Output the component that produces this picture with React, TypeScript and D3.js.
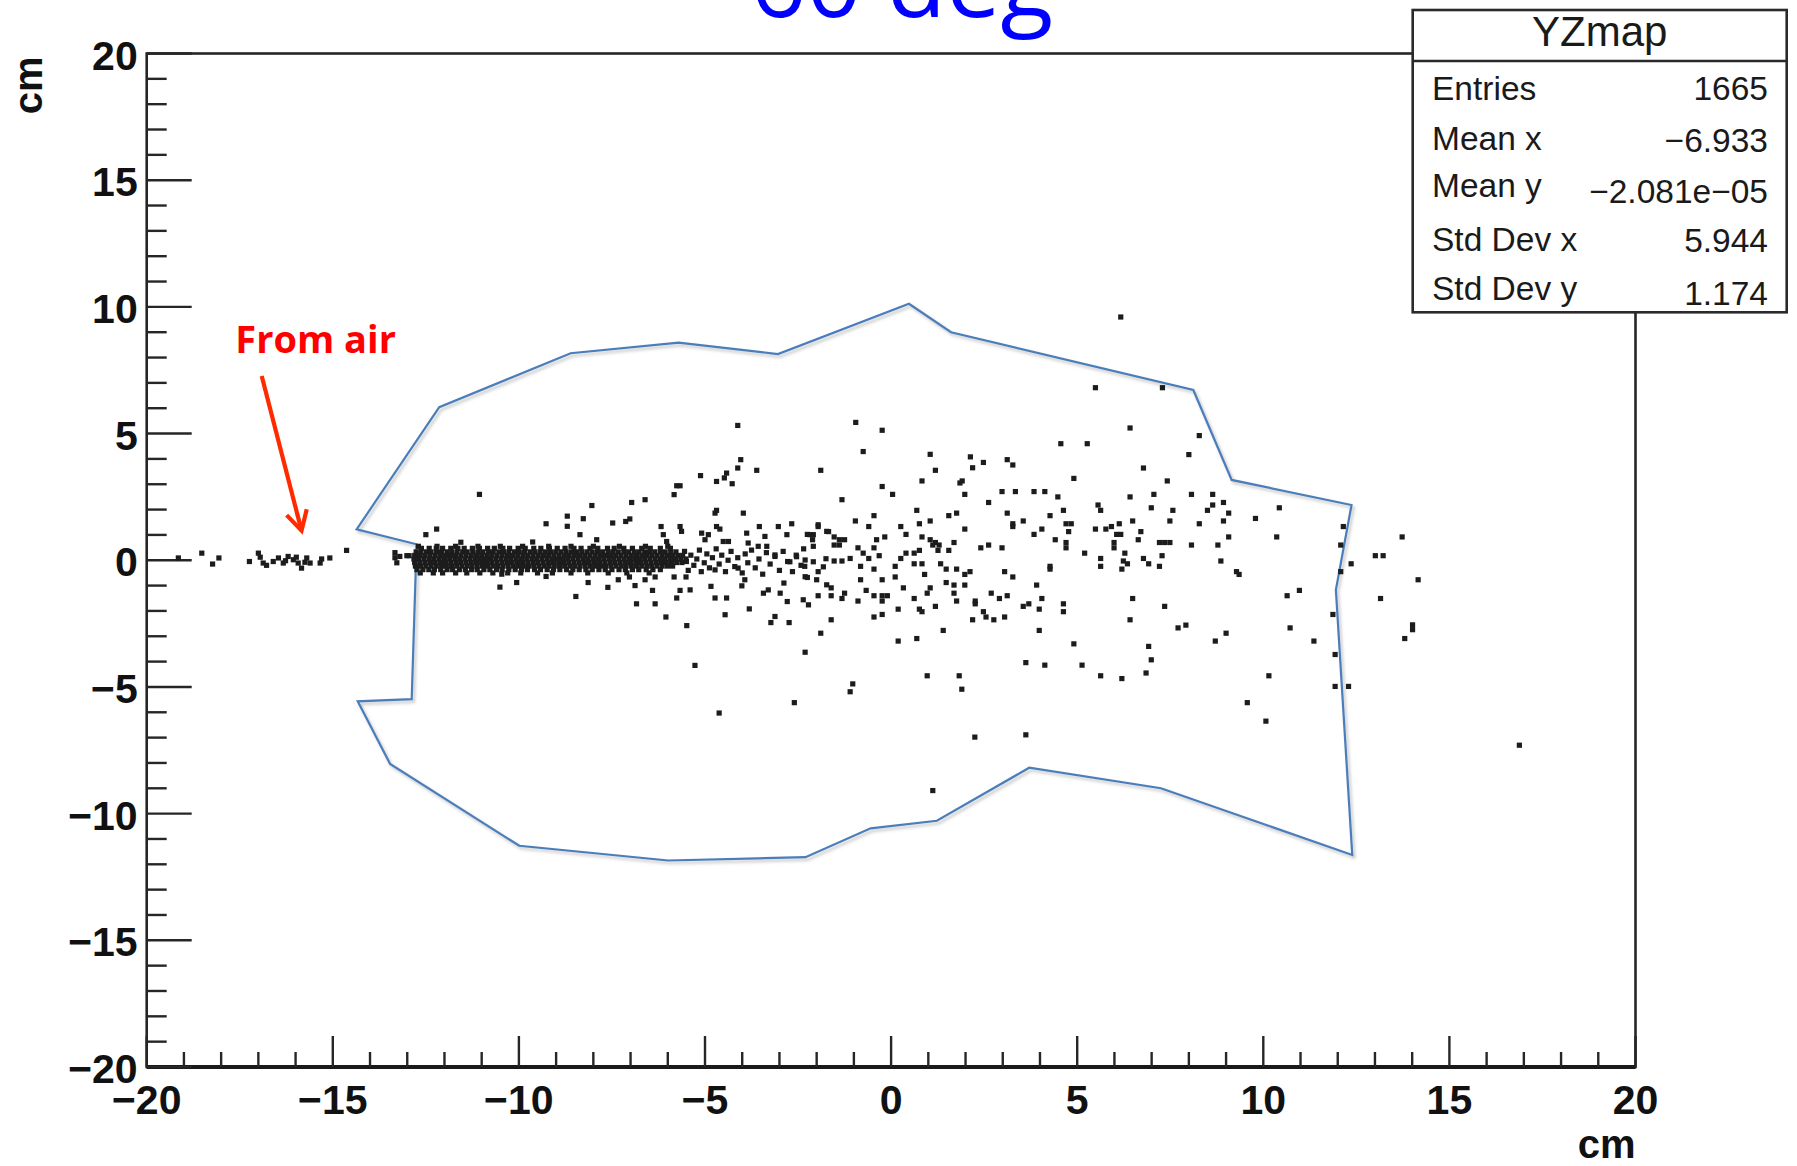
import React, { useEffect, useRef } from 'react';
import * as d3 from 'd3';

// axis range (cm)
const xDomain = [-20, 20];
const yDomain = [-20, 20];

// stats box
const statsTitle = 'YZmap';
const statLabels = ['Entries', 'Mean x', 'Mean y', 'Std Dev x', 'Std Dev y'];
const statValues = ['1665', '\u22126.933', '\u22122.081e\u221205', '5.944', '1.174'];

// hand drawn acceptance outline (cm)
const outlineX = [-14.36, -12.14, -8.61, -5.71, -3.04, 0.48, 1.61, 8.12, 9.15, 12.37, 11.95, 12.39, 7.25, 3.71, 1.23, -0.55, -2.3, -5.99, -9.99, -13.46, -14.33, -12.88, -12.75];
const outlineY = [1.22, 6.04, 8.17, 8.59, 8.14, 10.12, 9.0, 6.72, 3.17, 2.18, -1.17, -11.63, -9.0, -8.19, -10.28, -10.58, -11.72, -11.85, -11.27, -8.04, -5.57, -5.48, 0.63];

// "From air" note: label anchor, arrow tail, tip and the two barbs (cm)
const noteText = 'From air';
const noteAt = [-17.62, 8.18];
const arrowTail = [-16.91, 7.27];
const arrowTip = [-15.84, 1.17];
const arrowBarbs = [[-16.24, 1.78], [-15.7, 2.01]];

// dense core of the beam, read row by row
const coreRowY = [0.55, 0.47, 0.33, 0.19, 0.05, -0.09, -0.23, -0.37, -0.5];
const coreRowX = [
  [-12.7, -12.2, -11.7, -11.1, -10.5, -9.9, -9.2, -8.6, -8.0, -7.3, -6.6, -6.0],
  [-12.62, -12.41, -12.22, -12.05, -11.83, -11.64, -11.47, -11.25, -11.06, -10.84, -10.66, -10.43, -10.25, -10.02, -9.83, -9.6, -9.41, -9.18, -8.97, -8.76, -8.52, -8.33, -8.09, -7.88, -7.62, -7.44, -7.18, -6.95, -6.7, -6.47, -6.2, -5.93],
  [-12.76, -12.63, -12.48, -12.36, -12.21, -12.08, -11.93, -11.8, -11.66, -11.51, -11.39, -11.24, -11.1, -10.97, -10.82, -10.69, -10.54, -10.41, -10.27, -10.12, -9.99, -9.85, -9.7, -9.57, -9.43, -9.29, -9.15, -9.01, -8.87, -8.73, -8.59, -8.45, -8.31, -8.17, -8.03, -7.89, -7.75, -7.6, -7.47, -7.33, -7.18, -7.05, -6.9, -6.77, -6.62, -6.49, -6.35, -6.2, -6.07, -5.92, -5.78],
  [-12.8, -12.67, -12.53, -12.39, -12.25, -12.11, -11.97, -11.84, -11.7, -11.56, -11.42, -11.28, -11.14, -11.0, -10.86, -10.73, -10.59, -10.45, -10.31, -10.17, -10.03, -9.89, -9.76, -9.62, -9.48, -9.34, -9.2, -9.06, -8.92, -8.78, -8.65, -8.51, -8.37, -8.23, -8.09, -7.95, -7.81, -7.67, -7.54, -7.4, -7.26, -7.12, -6.98, -6.84, -6.7, -6.57, -6.43, -6.29, -6.15, -6.01, -5.87, -5.73, -5.6],
  [-12.82, -12.69, -12.55, -12.41, -12.28, -12.14, -12.0, -11.86, -11.72, -11.59, -11.45, -11.31, -11.17, -11.03, -10.9, -10.76, -10.62, -10.48, -10.34, -10.21, -10.07, -9.93, -9.79, -9.65, -9.52, -9.38, -9.24, -9.1, -8.96, -8.83, -8.69, -8.55, -8.41, -8.27, -8.14, -8.0, -7.86, -7.72, -7.58, -7.45, -7.31, -7.17, -7.03, -6.89, -6.76, -6.62, -6.48, -6.34, -6.2, -6.07, -5.93, -5.79, -5.65, -5.51],
  [-12.8, -12.66, -12.52, -12.38, -12.25, -12.11, -11.97, -11.83, -11.69, -11.56, -11.42, -11.28, -11.14, -11.0, -10.87, -10.73, -10.59, -10.45, -10.31, -10.18, -10.04, -9.9, -9.76, -9.62, -9.49, -9.35, -9.21, -9.07, -8.93, -8.8, -8.66, -8.52, -8.38, -8.24, -8.11, -7.97, -7.83, -7.69, -7.55, -7.42, -7.28, -7.14, -7.0, -6.86, -6.73, -6.59, -6.45, -6.31, -6.17, -6.04, -5.9, -5.76, -5.62],
  [-12.78, -12.64, -12.5, -12.36, -12.22, -12.08, -11.95, -11.81, -11.67, -11.53, -11.39, -11.26, -11.12, -10.98, -10.84, -10.7, -10.57, -10.43, -10.29, -10.15, -10.01, -9.88, -9.74, -9.6, -9.46, -9.32, -9.19, -9.05, -8.91, -8.77, -8.63, -8.5, -8.36, -8.22, -8.08, -7.94, -7.81, -7.67, -7.53, -7.39, -7.25, -7.12, -6.98, -6.84, -6.7, -6.56, -6.43, -6.29, -6.15, -6.01, -5.87],
  [-12.74, -12.58, -12.42, -12.27, -12.1, -11.93, -11.78, -11.6, -11.44, -11.27, -11.12, -10.94, -10.78, -10.6, -10.45, -10.27, -10.1, -9.93, -9.77, -9.58, -9.42, -9.24, -9.07, -8.9, -8.72, -8.55, -8.38, -8.2, -8.03, -7.85, -7.68, -7.5, -7.31, -7.14, -6.95, -6.78, -6.58, -6.4, -6.2],
  [-12.65, -12.3, -12.05, -11.7, -11.4, -11.05, -10.7, -10.3, -9.95, -9.5, -9.1, -8.6, -8.15, -7.6, -7.1, -6.5],
];

// points from air, upstream of the target
const airPts: [number, number][] = [
  [-19.15, 0.09], [-18.52, 0.28], [-18.23, -0.15], [-18.06, 0.09], [-17.24, -0.05], [-17.0, 0.28],
  [-16.95, 0.12], [-16.87, -0.11], [-16.78, -0.2], [-16.6, -0.05], [-16.46, 0.09], [-16.33, -0.11],
  [-16.27, -0.02], [-16.2, 0.15], [-16.06, 0.02], [-15.98, 0.12], [-15.93, -0.11], [-15.84, -0.31],
  [-15.75, -0.08], [-15.7, 0.09], [-15.61, -0.11], [-15.34, -0.11], [-15.3, 0.05], [-15.08, 0.09],
  [-14.63, 0.39], [-13.33, 0.3], [-13.33, 0.1], [-13.28, -0.1], [-13.2, 0.15], [-13.01, 0.18], [-12.95, 0.18],
];

// the broken tail of the core
const tailPts: [number, number][] = [
  [-5.55, 0.35], [-5.5, -0.05], [-5.45, -0.4], [-5.38, 0.2], [-5.3, -0.2], [-5.22, 0.05], [-5.15, 0.4],
  [-5.1, -0.45], [-5.02, -0.1], [-4.95, 0.25], [-4.88, -0.3], [-4.8, 0.1], [-4.7, 0.45], [-4.62, -0.15],
  [-4.55, 0.2], [-4.45, -0.45], [-4.38, 0.0], [-4.3, 0.35], [-4.2, -0.25], [-4.12, 0.1], [-4.0, -0.5],
  [-3.92, 0.25], [-3.85, -0.1], [-3.75, 0.4], [-3.65, -0.3], [-3.55, 0.05], [-3.45, -0.55], [-3.35, 0.3],
  [-3.25, -0.15], [-3.12, 0.15], [-3.12, 0.21], [-3.0, -0.4], [-2.9, 0.35], [-2.78, -0.05], [-2.72, -0.06],
  [-2.65, -0.45], [-2.55, 0.2], [-2.54, 0.14], [-2.42, -0.2], [-2.35, 0.45], [-2.31, 0.01], [-2.09, -0.06],
  [-1.82, -0.26], [-2.31, -0.65],
];

// scattered hits
const spreadPts: [number, number][] = [
  [-12.5, 1.01], [-12.21, 1.23], [-11.56, 0.71], [-11.06, 2.6], [-10.51, -1.06], [-10.06, -0.88], [-10.46, -0.55],
  [-9.63, 0.72], [-9.27, 1.44], [-8.7, 1.74], [-8.7, 1.34], [-8.27, 1.64], [-8.04, 2.16], [-8.36, 1.01],
  [-8.47, -1.43], [-9.27, -0.64], [-8.14, -0.88],
  [-6.97, 2.28], [-6.61, 2.39], [-7.13, 1.53], [-7.02, 1.63], [-7.48, 1.47], [-7.91, 0.81], [-5.83, 2.59],
  [-5.76, 2.94], [-5.67, 2.94], [-4.69, 3.11], [-4.27, 3.02], [-4.73, 1.86], [-4.69, 1.97], [-3.97, 1.86],
  [-6.18, 1.33], [-5.67, 1.33], [-5.63, 1.14], [-6.12, 1.01], [-6.03, 0.74], [-5.09, 1.07], [-4.91, 1.01],
  [-5.0, 0.81], [-4.69, 1.33], [-4.6, 1.23], [-3.88, 1.07], [-3.54, 1.33], [-3.03, 1.33], [-2.67, 1.44],
  [-2.8, 1.01], [-3.39, 0.94], [-2.18, 1.01], [-2.09, 1.01], [-1.96, 1.4], [-1.73, 1.14], [-2.09, 0.55],
  [-1.75, 0.06], [-4.51, 0.74], [-4.37, 0.74], [-3.84, 0.68], [-3.57, 0.55], [-3.34, 0.55],
  [-7.61, -1.07], [-7.33, -0.77], [-7.03, -0.66], [-6.88, -1.0], [-6.61, -0.77], [-6.34, -0.66], [-6.41, -1.19],
  [-6.84, -1.72], [-6.34, -1.72], [-6.05, -2.24], [-5.49, -2.58], [-5.83, -0.66], [-5.51, -0.66], [-5.67, -1.19],
  [-5.4, -1.17], [-5.76, -1.49], [-4.84, -1.03], [-4.73, -1.49], [-4.42, -1.49], [-4.46, -2.15], [-3.81, -1.92],
  [-4.01, -1.01], [-3.93, -0.77], [-3.43, -1.3], [-3.3, -1.17], [-2.98, -1.3], [-2.88, -0.9], [-2.79, -1.63],
  [-3.12, -2.22], [-3.23, -2.46], [-2.74, -2.46], [-2.36, -1.56], [-2.22, -1.76], [-1.96, -1.4], [-2.25, -0.68],
  [-2.0, -0.77], [-1.73, -0.97], [-4.73, -0.38], [-4.11, -0.31],
  [-4.12, 5.32], [-4.04, 3.97], [-4.12, 3.64], [-4.42, 3.44], [-4.48, 3.25], [-5.12, 3.34], [-3.61, 3.55], [-1.89, 3.55],
  [-5.27, -4.15], [-4.62, -6.03], [-1.89, -2.88], [-2.31, -3.63], [-2.6, -5.62],
  [5.49, 6.81], [7.29, 6.81], [-0.95, 5.44], [-0.24, 5.13], [-0.75, 4.29], [6.42, 5.22], [8.28, 4.92], [8.0, 4.17],
  [4.56, 4.6], [5.27, 4.6], [6.78, 3.64], [7.42, 3.13], [4.91, 3.23], [1.05, 4.18], [1.19, 3.55], [2.13, 4.08],
  [2.19, 3.65], [2.48, 3.86], [3.12, 3.97], [3.27, 3.76], [0.83, 3.13], [1.85, 3.05], [1.91, 3.13], [1.98, 2.6],
  [-0.24, 2.91], [0.04, 2.6], [-1.32, 2.39], [2.62, 2.28], [2.98, 2.71], [3.34, 2.71], [3.84, 2.71], [4.13, 2.71],
  [4.48, 2.5], [4.63, 1.97], [4.27, 1.76], [3.12, 1.86], [3.55, 1.55], [3.27, 1.44], [3.27, 1.33], [6.42, 2.5],
  [7.06, 2.6], [6.99, 2.07], [7.57, 1.97], [7.49, 1.55], [8.07, 2.6], [8.64, 2.6], [8.93, 2.28], [8.64, 2.18],
  [8.5, 1.97], [9.07, 1.86], [8.93, 1.55], [8.28, 1.44], [9.79, 1.65], [10.43, 2.07], [5.56, 2.18], [5.63, 1.97],
  [6.49, 1.55], [6.13, 1.44], [5.49, 1.23], [5.77, 1.23], [5.92, 1.33], [6.06, 1.02], [6.17, 1.02], [6.71, 1.13],
  [4.7, 1.44], [4.84, 1.44], [4.77, 1.13], [3.84, 1.02], [4.05, 1.23], [4.41, 0.81], [4.7, 0.7], [4.7, 0.49],
  [6.64, 0.81], [5.99, 0.7], [5.99, 0.49], [6.28, 0.28], [7.21, 0.7], [7.35, 0.7], [7.49, 0.7], [7.28, 0.18],
  [8.07, 0.6], [9.07, 0.92], [8.78, 0.6], [8.86, -0.03], [9.28, -0.45], [9.35, -0.56], [10.36, 0.92], [5.2, 0.28],
  [5.63, 0.07], [5.63, -0.24], [6.24, -0.03], [6.35, -0.14], [6.2, -0.35], [6.78, 0.07], [6.92, -0.14], [7.21, -0.24],
  [4.27, -0.24], [4.27, -0.35], [2.98, 0.49], [2.41, 0.49], [2.62, 0.6], [1.69, 0.7], [1.55, 0.39], [1.29, 0.6],
  [1.19, 0.7], [1.05, 0.81], [1.33, -0.14], [1.48, -0.35], [1.76, -0.35], [1.98, -0.56], [2.12, -0.45], [1.69, -0.98],
  [1.98, -0.98], [1.69, -1.3], [1.76, -1.61], [1.48, -0.88], [3.05, -0.45], [3.27, -0.66], [3.91, -0.98], [4.05, -1.51],
  [3.98, -1.93], [3.98, -2.77], [2.69, -1.3], [2.91, -1.51], [3.12, -1.4], [2.26, -1.61], [2.26, -1.72], [2.48, -2.03],
  [2.55, -2.24], [2.76, -2.35], [3.05, -2.24], [2.19, -2.35], [3.55, -1.82], [3.7, -1.72], [4.63, -1.72], [4.63, -2.03],
  [1.4, -2.77], [0.69, 1.97], [0.76, 1.44], [1.05, 1.55], [1.55, 1.76], [1.76, 1.86], [1.98, 1.23], [0.26, 1.33],
  [0.4, 1.02], [0.83, 0.92], [1.12, 0.6], [1.26, 0.39], [-0.46, 1.76], [-0.6, 1.33], [-0.96, 1.55], [-2.25, 1.02],
  [-2.11, 0.81], [-1.96, 1.33], [-1.68, 1.13], [-1.53, 0.92], [-1.39, 0.81], [-1.25, 0.81], [-1.39, 0.6], [-1.53, 0.6],
  [-0.89, 0.49], [-0.75, 0.28], [-0.46, 0.49], [-0.32, 0.18], [-0.17, 0.92], [-0.39, 0.81], [-1.53, -0.03], [-1.32, -0.03],
  [-1.1, 0.07], [-0.82, -0.24], [-0.6, 0.07], [-0.46, -0.35], [-0.24, -0.77], [0.11, -0.24], [0.26, 0.07], [0.4, 0.28],
  [0.62, 0.28], [0.76, 0.39], [0.62, -0.14], [0.83, -0.14], [0.9, -0.56], [-1.96, -0.45], [-2.32, -0.24], [-1.61, -1.09],
  [-1.61, -1.4], [-1.32, -1.51], [-1.25, -1.3], [-0.82, -0.77], [-0.89, -1.61], [-0.67, -1.19], [-0.46, -1.4], [-0.24, -1.4],
  [-0.1, -1.4], [-0.24, -1.61], [0.11, -0.66], [0.33, -1.09], [0.19, -1.93], [0.62, -1.51], [0.97, -1.3], [1.05, -1.09],
  [1.19, -1.82], [0.76, -1.93], [0.83, -2.03], [-1.61, -2.35], [-0.46, -2.24], [-0.24, -2.14], [0.19, -3.19], [0.69, -3.09],
  [0.97, -4.56], [1.83, -4.56], [1.9, -5.09], [-1.03, -4.88], [-1.1, -5.19], [3.62, -4.04], [4.13, -4.14], [5.13, -4.14],
  [4.91, -3.3], [6.42, -2.35], [6.49, -1.51], [6.92, -3.4], [6.99, -3.93], [6.85, -4.45], [5.63, -4.56], [6.2, -4.67],
  [7.35, -1.82], [7.71, -2.67], [7.92, -2.56], [8.71, -3.19], [9.0, -2.88], [10.64, -1.4], [10.72, -2.67], [10.15, -4.56],
  [9.57, -5.62], [10.07, -6.35], [10.97, -1.19],
  [12.15, 1.33], [12.08, 0.6], [12.36, -0.14], [12.08, -0.45], [13.73, 0.92], [13.01, 0.18], [13.22, 0.18], [14.16, -0.77],
  [13.15, -1.51], [14.01, -2.55], [14.01, -2.74], [13.8, -3.09], [11.36, -3.19], [11.87, -2.14], [11.93, -3.72],
  [11.93, -4.98], [12.29, -4.98], [16.88, -7.3], [2.25, -6.98], [3.62, -6.89], [1.12, -9.09], [6.17, 9.6],
];

const App = () => {
  const svgRef = useRef<SVGSVGElement | null>(null);

  useEffect(() => {
    const width = 1797;
    const height = 1166;
    const frame = { left: 146.7, right: 1635.5, top: 53.5, bottom: 1067 };

    const svg = d3.select(svgRef.current);
    svg.selectAll('*').remove();
    svg.attr('width', width).attr('height', height);

    const x = d3.scaleLinear().domain(xDomain).range([frame.left, frame.right]);
    const y = d3.scaleLinear().domain(yDomain).range([frame.bottom, frame.top]);
    const fmt = d3.format('d');

    const defs = svg.append('defs');
    const shadow = defs.append('filter').attr('id', 'shade').attr('x', '-5%').attr('y', '-5%').attr('width', '110%').attr('height', '110%');
    shadow.append('feDropShadow').attr('dx', 2).attr('dy', 2.5).attr('stdDeviation', 1.6)
      .attr('flood-color', '#777').attr('flood-opacity', 0.45);

    svg.append('rect').attr('width', width).attr('height', height).attr('fill', '#fff');

    // title, cut by the top of the page
    svg.append('text')
      .attr('x', 902).attr('y', 17)
      .attr('text-anchor', 'middle')
      .attr('font-family', '"Open Sans", sans-serif')
      .attr('font-size', 97)
      .attr('fill', '#0000ff')
      .text('60 deg');

    // frame
    svg.append('rect')
      .attr('x', frame.left).attr('y', frame.top)
      .attr('width', frame.right - frame.left).attr('height', frame.bottom - frame.top)
      .attr('fill', 'none').attr('stroke', '#262626').attr('stroke-width', 2.6);
    svg.append('line')
      .attr('x1', frame.left).attr('x2', frame.right)
      .attr('y1', frame.bottom).attr('y2', frame.bottom)
      .attr('stroke', '#1a1a1a').attr('stroke-width', 4);

    const axisFont = '"Liberation Sans", Arial, sans-serif';

    // x ticks
    const xt = svg.append('g');
    x.ticks(40).forEach(v => {
      const major = v % 5 === 0;
      xt.append('line')
        .attr('x1', x(v)).attr('x2', x(v))
        .attr('y1', frame.bottom).attr('y2', frame.bottom - (major ? 31 : 15))
        .attr('stroke', '#262626').attr('stroke-width', 2.4);
      if (major) {
        xt.append('text')
          .attr('x', x(v)).attr('y', frame.bottom + 47)
          .attr('text-anchor', 'middle')
          .attr('font-family', axisFont).attr('font-weight', 'bold').attr('font-size', 41)
          .attr('fill', '#111')
          .text(fmt(v));
      }
    });

    // y ticks
    const yt = svg.append('g');
    y.ticks(40).forEach(v => {
      const major = v % 5 === 0;
      yt.append('line')
        .attr('x1', frame.left).attr('x2', frame.left + (major ? 45 : 20))
        .attr('y1', y(v)).attr('y2', y(v))
        .attr('stroke', '#262626').attr('stroke-width', 2.4);
      if (major) {
        yt.append('text')
          .attr('x', frame.left - 9).attr('y', y(v) + 16)
          .attr('text-anchor', 'end')
          .attr('font-family', axisFont).attr('font-weight', 'bold').attr('font-size', 41)
          .attr('fill', '#111')
          .text(fmt(v));
      }
    });

    // axis titles
    svg.append('text')
      .attr('x', frame.right).attr('y', 1158)
      .attr('text-anchor', 'end')
      .attr('font-family', axisFont).attr('font-weight', 'bold').attr('font-size', 40)
      .attr('fill', '#111')
      .text('cm');
    svg.append('text')
      .attr('transform', `translate(42,${frame.top + 3}) rotate(-90)`)
      .attr('text-anchor', 'end')
      .attr('font-family', axisFont).attr('font-weight', 'bold').attr('font-size', 40)
      .attr('fill', '#111')
      .text('cm');

    // acceptance outline
    const outline = d3.line<number>()
      .x(i => x(outlineX[i]))
      .y(i => y(outlineY[i]))
      .curve(d3.curveLinearClosed);
    svg.append('path')
      .attr('d', outline(d3.range(outlineX.length)))
      .attr('fill', 'none')
      .attr('stroke', '#4a7ebb')
      .attr('stroke-width', 2.2)
      .attr('stroke-linejoin', 'miter')
      .attr('filter', 'url(#shade)');

    // hits
    const corePts: [number, number][] = [];
    coreRowX.forEach((row, r) => row.forEach(v => corePts.push([v, coreRowY[r]])));
    const allPts = [...airPts, ...corePts, ...tailPts, ...spreadPts];
    const s = 5.2;
    svg.append('g')
      .selectAll('rect')
      .data(allPts)
      .enter()
      .append('rect')
      .attr('x', d => x(d[0]) - s / 2)
      .attr('y', d => y(d[1]) - s / 2)
      .attr('width', s)
      .attr('height', s)
      .attr('fill', '#1c1c1c');

    // stats box
    const box = { left: 1412.7, right: 1786.7, top: 10, bottom: 312.3, split: 61 };
    svg.append('rect')
      .attr('x', box.left).attr('y', box.top)
      .attr('width', box.right - box.left).attr('height', box.bottom - box.top)
      .attr('fill', '#fff').attr('stroke', '#2a2a2a').attr('stroke-width', 2.6);
    svg.append('line')
      .attr('x1', box.left).attr('x2', box.right)
      .attr('y1', box.split).attr('y2', box.split)
      .attr('stroke', '#2a2a2a').attr('stroke-width', 2.6);
    svg.append('text')
      .attr('x', (box.left + box.right) / 2).attr('y', 46)
      .attr('text-anchor', 'middle')
      .attr('font-family', axisFont).attr('font-size', 42)
      .attr('fill', '#1a1a1a')
      .text(statsTitle);
    const labelBase = [100, 150, 197, 251, 300];
    const valueBase = [100, 152, 203, 252, 305];
    statLabels.forEach((lab, i) => {
      svg.append('text')
        .attr('x', 1432).attr('y', labelBase[i])
        .attr('font-family', axisFont).attr('font-size', 33.5)
        .attr('fill', '#1a1a1a')
        .text(lab);
      svg.append('text')
        .attr('x', 1768).attr('y', valueBase[i])
        .attr('text-anchor', 'end')
        .attr('font-family', axisFont).attr('font-size', 33.5)
        .attr('fill', '#1a1a1a')
        .text(statValues[i]);
    });

    // annotation
    svg.append('text')
      .attr('x', x(noteAt[0])).attr('y', y(noteAt[1]))
      .attr('font-family', '"Open Sans", sans-serif').attr('font-weight', 'bold').attr('font-size', 38)
      .attr('fill', '#ff0000')
      .text(noteText);
    svg.append('line')
      .attr('x1', x(arrowTail[0])).attr('y1', y(arrowTail[1]))
      .attr('x2', x(arrowTip[0])).attr('y2', y(arrowTip[1]))
      .attr('stroke', '#ff2a00').attr('stroke-width', 4.2);
    svg.append('path')
      .attr('d', d3.line()([
        [x(arrowBarbs[0][0]), y(arrowBarbs[0][1])],
        [x(arrowTip[0]), y(arrowTip[1])],
        [x(arrowBarbs[1][0]), y(arrowBarbs[1][1])],
      ]))
      .attr('fill', 'none')
      .attr('stroke', '#ff2a00').attr('stroke-width', 4.2)
      .attr('stroke-linejoin', 'miter');

    return () => {
      svg.selectAll('*').remove();
    };
  }, []);

  return <svg ref={svgRef} style={{ position: 'absolute', left: 0, top: 0, display: 'block' }}></svg>;
};

export default App;
